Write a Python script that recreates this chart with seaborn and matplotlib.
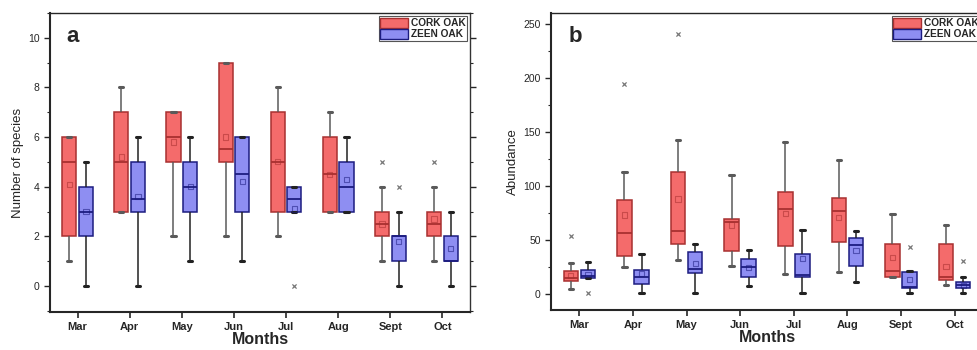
import numpy as np
import pandas as pd
import matplotlib
matplotlib.use("Agg")
import matplotlib.pyplot as plt
from matplotlib.patches import Patch
import seaborn as sns

months = ["Mar", "Apr", "May", "Jun", "Jul", "Aug", "Sept", "Oct"]
groups = ["CORK OAK", "ZEEN OAK"]

# five-number summaries: [whisker low, Q1, median, Q3, whisker high]
species_cork = [[1, 2, 5, 6, 6], [3, 3, 5, 7, 8], [2, 5, 6, 7, 7], [2, 5, 5.5, 9, 9],
                [2, 3, 5, 7, 8], [3, 3, 4.5, 6, 7], [1, 2, 2.5, 3, 4], [1, 2, 2.5, 3, 4]]
species_zeen = [[0, 2, 3, 4, 5], [0, 3, 3.5, 5, 6], [1, 3, 4, 5, 6], [1, 3, 4.5, 6, 6],
                [3, 3, 3.5, 4, 4], [3, 3, 4, 5, 6], [0, 1, 2, 2, 3], [0, 1, 1, 2, 3]]
species_cork_mean = [4.1, 5.2, 5.8, 6.0, 5.0, 4.5, 2.5, 2.7]
species_zeen_mean = [3.0, 3.6, 4.0, 4.2, 3.1, 4.3, 1.8, 1.5]
species_cork_out = [[], [], [], [], [], [], [5], [5]]
species_zeen_out = [[], [], [], [], [0], [], [4], []]

abund_cork = [[4.3, 12.3, 14.5, 21.2, 28.3], [24.6, 35.1, 56.7, 86.8, 113], [31.7, 45.9, 58.5, 113, 142],
              [25.9, 40, 66.8, 69.6, 110], [18.2, 44.3, 78.2, 94.5, 140.7], [20, 47.7, 77, 88.7, 123.8],
              [15.4, 15.4, 21.5, 46.5, 73.9], [8.3, 12.9, 15.4, 46.5, 63.7]]
abund_zeen = [[14.2, 14.2, 16.6, 21.6, 29.9], [0.6, 9.2, 16, 22.2, 37], [1.2, 19.1, 23.4, 38.8, 46],
              [7.4, 16, 24.6, 32, 40.3], [0.6, 16, 17, 37, 59], [11, 25.5, 45, 52, 58.5],
              [0.6, 5.5, 6.5, 20.6, 21], [1.2, 5.2, 8.3, 11.2, 15.4]]
abund_cork_mean = [17, 73, 87.7, 63.7, 74.5, 70.8, 33.6, 25.2]
abund_zeen_mean = [17.9, 19, 28, 24.6, 33, 40, 13.5, 7.4]
abund_cork_out = [[53.9], [194], [240.8], [], [], [], [], []]
abund_zeen_out = [[1], [], [], [], [], [], [43.7], [30.5]]

fill = {"CORK OAK": "#F46B6B", "ZEEN OAK": "#8E8EF2"}
edge = {"CORK OAK": "#A83030", "ZEEN OAK": "#1C1C80"}
whisk = {"CORK OAK": "#5a5a5a", "ZEEN OAK": "#222222"}

sns.set_theme(style="ticks")
plt.rcParams["font.family"] = ["Liberation Sans", "DejaVu Sans"]

WIDTH = 0.64
GAP = 0.15
OFFS = {"CORK OAK": -WIDTH / 4, "ZEEN OAK": WIDTH / 4}


def long_frame(cork, zeen):
    rows = []
    for g, summ in zip(groups, [cork, zeen]):
        for m, five in zip(months, summ):
            for v in five:
                rows.append({"month": m, "group": g, "value": v})
    return pd.DataFrame(rows)


def draw(ax, cork, zeen, cmean, zmean, cout, zout):
    df = long_frame(cork, zeen)
    for g in groups:
        sub = df[df["group"] == g]
        sns.boxplot(data=sub, x="month", y="value", hue="group", order=months,
                    hue_order=groups, palette=fill, dodge=True, width=WIDTH, gap=GAP,
                    whis=(0, 100), linecolor=edge[g], linewidth=1.1, legend=False, ax=ax,
                    saturation=1, capwidths=0.08,
                    whiskerprops=dict(color=whisk[g], linewidth=1.1),
                    capprops=dict(color=whisk[g], linewidth=2.2),
                    medianprops=dict(color=edge[g], linewidth=1.3))
    for g, means, outs in [("CORK OAK", cmean, cout), ("ZEEN OAK", zmean, zout)]:
        xs = np.arange(len(months)) + OFFS[g]
        sns.scatterplot(x=xs, y=means, marker="s", s=14, facecolor="none",
                        edgecolor=edge[g], alpha=0.55, linewidth=0.8, ax=ax, legend=False,
                        zorder=6)
        ox, oy = [], []
        for i, o in enumerate(outs):
            for v in o:
                ox.append(i + OFFS[g])
                oy.append(v)
        if ox:
            sns.scatterplot(x=ox, y=oy, marker="x", s=9, color="#777777",
                            linewidth=0.9, ax=ax, legend=False, zorder=6)
    ax.set_xlim(-0.53, 7.53)
    ax.set_xlabel("Months", fontsize=11.5, fontweight="bold", labelpad=0)
    for lab in ax.get_xticklabels():
        lab.set_fontweight("bold")
        lab.set_fontsize(8)
    ax.tick_params(axis="y", labelsize=7.5, length=4, width=1.0)
    ax.tick_params(axis="x", length=4, width=1.2)
    ax.tick_params(axis="y", which="minor", length=2.5, width=0.8)
    for s in ["left", "bottom"]:
        ax.spines[s].set_linewidth(1.5)
    for s in ["top", "right"]:
        ax.spines[s].set_visible(True)
        ax.spines[s].set_linewidth(1.0)
    ax.spines["right"].set_color("#333333")
    handles = [Patch(facecolor=fill[g], edgecolor=edge[g], linewidth=1.0, label=g) for g in groups]
    leg = ax.legend(handles=handles, loc="upper right", fontsize=7.3, frameon=True,
                    fancybox=False, edgecolor="#555555", framealpha=1, borderpad=0.15,
                    handlelength=2.7, handleheight=1.2, handletextpad=0.3, labelspacing=0.05,
                    borderaxespad=0.3)
    leg.set_zorder(10)
    for t in leg.get_texts():
        t.set_fontweight("bold")
    leg.get_frame().set_linewidth(0.8)


fig = plt.figure(figsize=(9.78, 3.5), dpi=100)
ax1 = fig.add_axes([50 / 978, 1 - 312 / 350, 420 / 978, 299 / 350])
ax2 = fig.add_axes([551 / 978, 1 - 310 / 350, 432 / 978, 297 / 350])

draw(ax1, species_cork, species_zeen, species_cork_mean, species_zeen_mean,
     species_cork_out, species_zeen_out)
ax1.set_ylim(-1.05, 11)
ax1.set_yticks([0, 2, 4, 6, 8, 10])
ax1.set_yticks([-1, 1, 3, 5, 7, 9, 11], minor=True)
ax1.set_ylabel("Number of species", fontsize=9.5, labelpad=3)
ax1.yaxis.set_ticks_position("both")
ax1.tick_params(axis="y", which="both", direction="out")
ax1.text(0.04, 0.955, "a", transform=ax1.transAxes, fontsize=16, fontweight="bold",
         va="top", ha="left")

draw(ax2, abund_cork, abund_zeen, abund_cork_mean, abund_zeen_mean,
     abund_cork_out, abund_zeen_out)
ax2.set_ylim(-15, 260)
ax2.set_yticks([0, 50, 100, 150, 200, 250])
ax2.set_yticks([25, 75, 125, 175, 225], minor=True)
ax2.set_ylabel("Abundance", fontsize=9.5, labelpad=3)
ax2.text(0.04, 0.955, "b", transform=ax2.transAxes, fontsize=16, fontweight="bold",
         va="top", ha="left")

fig.savefig("out.png", dpi=100)
